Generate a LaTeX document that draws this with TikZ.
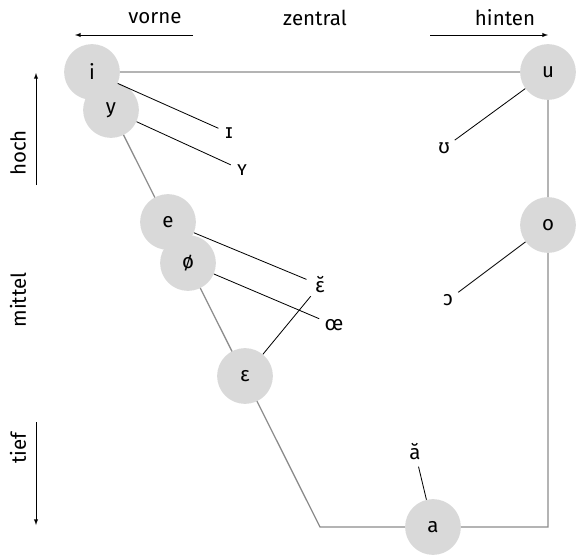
\documentclass[tikz,border=0pt]{standalone}
\usepackage{fontspec}
\setmainfont{Fira Sans}
\usetikzlibrary{positioning, arrows}

\tikzset{vowel/.style={circle,fill=black!15,minimum size=47.6pt,inner sep=0pt},
	allo/.style={circle,inner sep=3pt},
	frame/.style={draw=black!45,line width=1.1pt},
	link/.style={draw=black,line width=0.7pt},
	axis/.style={draw=black,line width=0.7pt,-latex}}

\begin{document}
\begin{tikzpicture}[x=0.03cm,y=-0.03cm,font=\fontsize{17.5}{20}\selectfont]
	\useasboundingbox (0,0) rectangle (576,557);
	% trapezoid
	\coordinate (c-i) at (92,72);
	\coordinate (c-u) at (548,72);
	\coordinate (c-back) at (548,527);
	\coordinate (c-low) at (320,527);
	\draw[frame] (c-i) -- (c-u) -- (c-back) -- (c-low) -- cycle;
	% cardinal vowels
	\foreach \N/\T/\X/\Y in {i/i/92/72, y/y/111/110, e/e/168/222, oe/ø/188/263,
		eps/ɛ/245/376, a/a/433/527, u/u/548/72, o/o/548/225}
	{\node[vowel] (\N) at (\X,\Y) {\T};}
	% lax vowels
	\node[allo] (I) at (229,133) {ɪ};
	\node[allo] (Y) at (242,170) {ʏ};
	\node[allo] (U) at (444,148) {ʊ};
	\node[allo] (short-e) at (320,285) {ɛ̆};
	\node[allo] (OE) at (334,325) {œ};
	\node[allo] (O) at (448,300) {ɔ};
	\node[allo] (short-a) at (415,452) {ă};
	\draw[link] (i) -- (I);
	\draw[link] (y) -- (Y);
	\draw[link] (u) -- (U);
	\draw[link] (e) -- (short-e);
	\draw[link] (oe) -- (OE);
	\draw[link] (eps) -- (short-e);
	\draw[link] (o) -- (O);
	\draw[link] (a) -- (short-a);
	% axes
	\node (vorne) at (155,18) {vorne};
	\node (zentral) at (315,18) {zentral};
	\node (hinten) at (505,18) {hinten};
	\coordinate (v-start) at (193,35);
	\coordinate (v-end) at (75,35);
	\coordinate (h-start) at (430,35);
	\coordinate (h-end) at (548,35);
	\draw[axis] (v-start) -- (v-end);
	\draw[axis] (h-start) -- (h-end);
	\node[rotate=90] (hoch) at (18,153) {hoch};
	\node[rotate=90] (mittel) at (18,300) {mittel};
	\node[rotate=90] (tief) at (18,448) {tief};
	\coordinate (up-start) at (36,185);
	\coordinate (up-end) at (36,73);
	\coordinate (down-start) at (36,422);
	\coordinate (down-end) at (36,525);
	\draw[axis] (up-start) -- (up-end);
	\draw[axis] (down-start) -- (down-end);
\end{tikzpicture}
\end{document}
